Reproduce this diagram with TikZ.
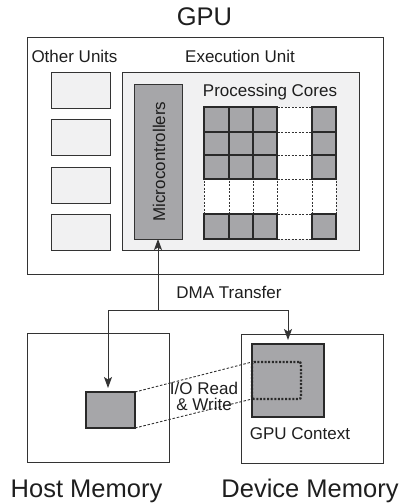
\documentclass[tikz,border=0pt]{standalone}
\usepackage{fontspec}
\setmainfont{Liberation Sans}
\usetikzlibrary{arrows.meta}
\definecolor{ln}{HTML}{333333}
\definecolor{txt}{HTML}{1E1E1E}
\definecolor{lightfill}{HTML}{F1F1F2}
\definecolor{cellfill}{HTML}{A6A6A9}
\begin{document}
\begin{tikzpicture}[x=1pt,y=-1pt,
  box/.style={draw=ln, line width=0.9pt, inner sep=0pt, outer sep=0pt},
  lightbox/.style={box, fill=lightfill},
  graybox/.style={draw=ln!80!black, line width=2.4pt, fill=cellfill, inner sep=0pt, outer sep=0pt},
  small/.style={font=\fontsize{17}{16}\selectfont, text=txt, inner sep=0pt},
  big/.style={font=\fontsize{25.5}{28}\selectfont, text=txt, inner sep=0pt},
  arr/.style={draw=ln, line width=0.9pt, -{Stealth[length=11pt,width=8pt,inset=2.5pt]}},
  conn/.style={draw=ln, line width=0.9pt},
  dashconn/.style={draw=ln, line width=0.9pt, dash pattern=on 2.5pt off 1.8pt},
  gridline/.style={draw=ln, line width=0.9pt, dash pattern=on 2pt off 1.5pt}
]
\useasboundingbox (0,0) rectangle (403,504);

% titles
\node[big, anchor=base] (gputitle) at (204.5,25) {GPU};

% GPU box
\node[box, minimum width=356pt, minimum height=237pt] (gpu) at (205,155.5) {};
\node[small, anchor=base] (otherlbl) at (74.5,62) {Other Units};
\node[small, anchor=base] (execlbl) at (240,62) {Execution Unit};

% other units
\node[lightbox, minimum width=59pt, minimum height=36pt] (ou1) at (80.5,90) {};
\node[lightbox, minimum width=59pt, minimum height=36pt] (ou2) at (80.5,137.5) {};
\node[lightbox, minimum width=59pt, minimum height=36pt] (ou3) at (80.5,185) {};
\node[lightbox, minimum width=59pt, minimum height=36pt] (ou4) at (80.5,232) {};

% execution unit
\node[lightbox, minimum width=237pt, minimum height=178pt] (exec) at (240.5,161) {};
\node[box, fill=cellfill, minimum width=48pt, minimum height=155pt] (micro) at (158,161.5) {};
\node[small, rotate=90] (microlbl) at (159,161.5) {Microcontrollers};
\node[small, anchor=base] (pclbl) at (270,96) {Processing Cores};

% grid of cores: dashed full grid
\fill[white] (204,107) rectangle (336,239);
\foreach \x in {204,229,253,277,312,336} \draw[gridline] (\x,107) -- (\x,239);
\foreach \y in {107,132,155,179,214,239} \draw[gridline] (204,\y) -- (336,\y);
% solid cores
\foreach \xa/\xb in {204/229,229/253,253/277,312/336}{
  \foreach \ya/\yb in {107/132,132/155,155/179,214/239}{
    \draw[graybox] (\xa,\ya) rectangle (\xb,\yb);
  }
}

% memories
\node[box, minimum width=142pt, minimum height=129pt] (host) at (98,397.5) {};
\node[box, minimum width=142pt, minimum height=129pt] (dev) at (312,398.5) {};
\node[graybox, minimum width=49pt, minimum height=36pt] (hostin) at (110.5,410) {};
\node[graybox, minimum width=72pt, minimum height=73pt] (ctx) at (288,380.5) {};
\node[draw=ln!80!black, line width=2.2pt, dash pattern=on 2pt off 1.6pt, rounded corners=2pt,
      minimum width=49pt, minimum height=37pt, inner sep=0pt, outer sep=0pt] (dot) at (276.5,380.5) {};
\node[small, anchor=base] (ctxlbl) at (300,439) {GPU Context};

\node[big, anchor=base] (hostlbl) at (86.5,497) {Host Memory};
\node[big, anchor=base] (devlbl) at (310,497) {Device Memory};

% DMA transfer
\coordinate (jc) at (158,310);
\coordinate (jl) at (108,310);
\coordinate (jr) at (288,310);
\draw[arr] (jc) -- (micro.south);
\draw[conn] (jl) -- (jr);
\draw[arr, shorten >=4pt] (jl) -- (jl |- hostin.north);
\draw[arr, shorten >=4pt] (jr) -- (jr |- ctx.north);
\node[small, anchor=base] (dmalbl) at (229,298) {DMA Transfer};

% I/O read & write
\draw[dashconn] (hostin.north east) -- (dot.north west);
\draw[dashconn] (hostin.south east) -- (dot.south west);
\node[small, align=center] (iolbl) at (204,396) {I/O Read\\\& Write};
\end{tikzpicture}
\end{document}
